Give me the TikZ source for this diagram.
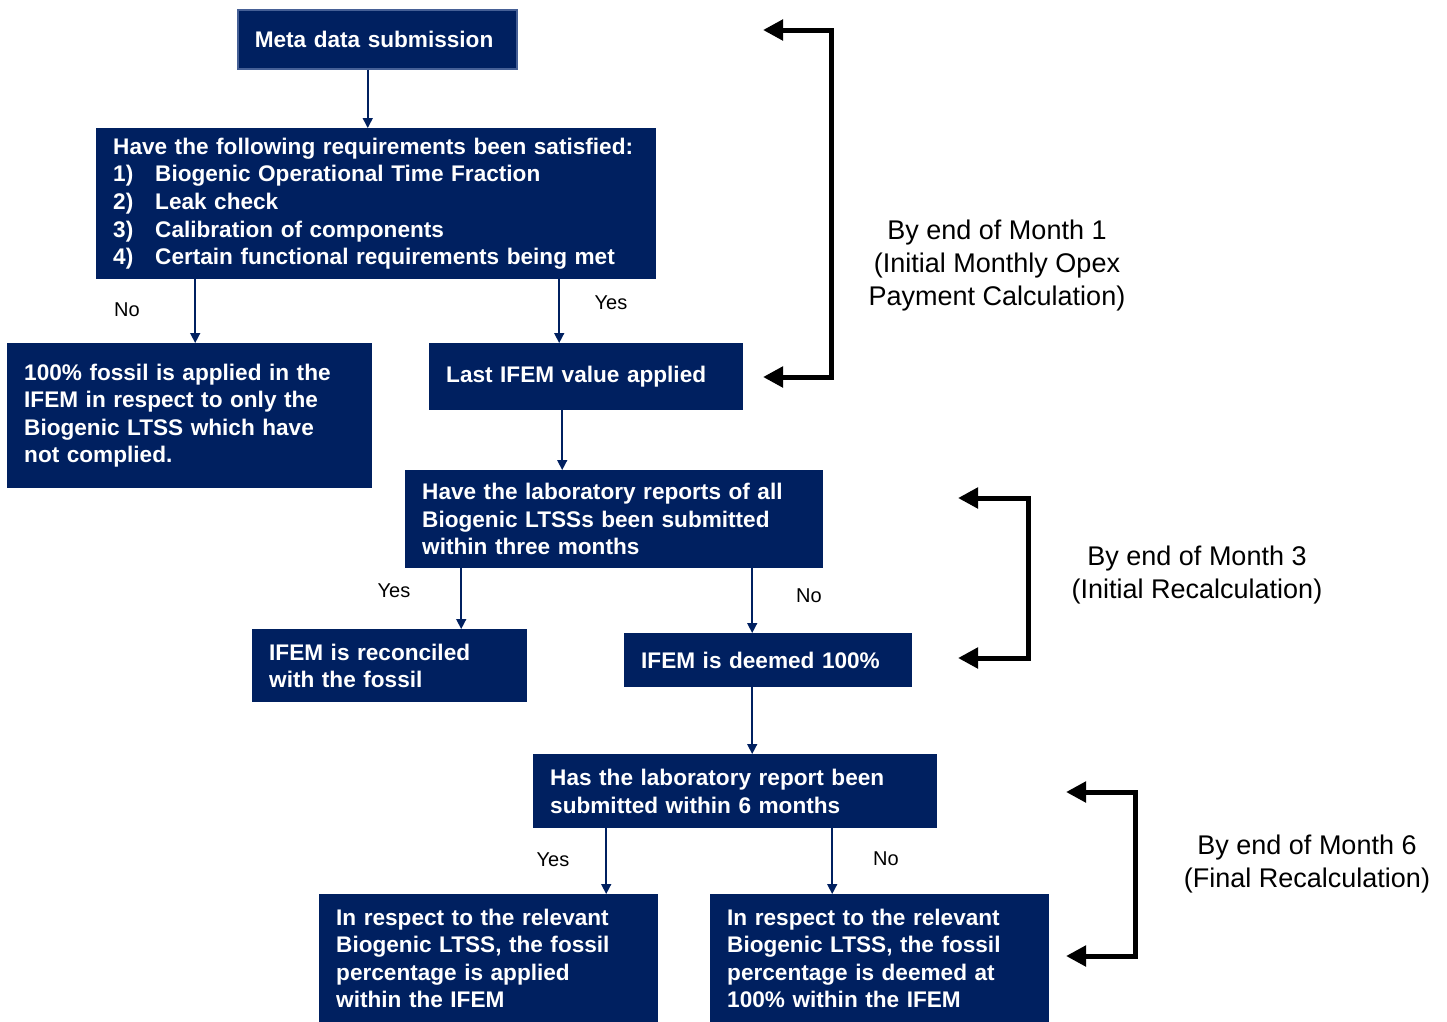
\documentclass[tikz,border=0pt]{standalone}
\usepackage{fontspec}
\setmainfont{Liberation Sans}
\usetikzlibrary{positioning, arrows.meta}
\definecolor{flowNavy}{RGB}{0, 32, 96}
\definecolor{flowEdge}{RGB}{70, 96, 150}

\begin{document}
\begin{tikzpicture}[
    x=1pt, y=-1pt,
    box/.style={rectangle, fill=flowNavy, text=white, anchor=north west,
                inner xsep=17pt, inner ysep=0pt, align=left,
                font=\fontsize{22.6}{27.5}\selectfont\bfseries},
    answer/.style={font=\fontsize{20}{24}\selectfont},
    period/.style={align=center, font=\fontsize{27}{33}\selectfont},
    arrow/.style={-{Triangle[length=10pt, width=10pt]}, draw=flowNavy, line width=1.5pt},
    bracket/.style={{Triangle[length=20pt, width=20pt]}-{Triangle[length=20pt, width=20pt]},
                    line width=5pt}
  ]
    \useasboundingbox (0,0) rectangle (1447,1021);

    % Month 1: submission and checks
    \node[box, draw=flowEdge, line width=1.5pt, text width=245pt, minimum height=59pt] (META) at (237,9)
      {Meta data submission};
    \node[box, text width=526pt, minimum height=151pt] (REQ) at (96,128)
      {Have the following requirements been satisfied:\\
       \makebox[42pt][l]{1)}Biogenic Operational Time Fraction\\
       \makebox[42pt][l]{2)}Leak check\\
       \makebox[42pt][l]{3)}Calibration of components\\
       \makebox[42pt][l]{4)}Certain functional requirements being met};
    \node[box, text width=331pt, minimum height=145pt] (FOSSIL) at (7,343)
      {100\% fossil is applied in the\\IFEM in respect to only the\\Biogenic LTSS which have\\not complied.};
    \node[box, text width=280pt, minimum height=67pt] (LAST) at (429,343)
      {Last IFEM value applied};

    % Month 3: laboratory reports
    \node[box, text width=384pt, minimum height=98pt] (LAB) at (405,470)
      {Have the laboratory reports of all\\Biogenic LTSSs been submitted\\within three months};
    \node[box, text width=241pt, minimum height=73pt] (RECON) at (252,629)
      {IFEM is reconciled\\with the fossil};
    \node[box, text width=254pt, minimum height=54pt] (DEEM) at (624,633)
      {IFEM is deemed 100\%};

    % Month 6: final report
    \node[box, text width=370pt, minimum height=74pt] (LAB6) at (533,754)
      {Has the laboratory report been\\submitted within 6 months};
    \node[box, text width=305pt, minimum height=128pt] (APPL) at (319,894)
      {In respect to the relevant\\Biogenic LTSS, the fossil\\percentage is applied\\within the IFEM};
    \node[box, text width=305pt, minimum height=128pt] (FULL) at (710,894)
      {In respect to the relevant\\Biogenic LTSS, the fossil\\percentage is deemed at\\100\% within the IFEM};

    % Yes / No
    \node[answer] (no1) at (127,310) {No};
    \node[answer] (yes1) at (611,303) {Yes};
    \node[answer] (yes2) at (394,591) {Yes};
    \node[answer] (no2) at (809,596) {No};
    \node[answer] (yes3) at (553,860) {Yes};
    \node[answer] (no3) at (886,859) {No};

    \draw[arrow] ([xshift=-9.5pt]META.south) -- ([xshift=-9.5pt]META.south |- REQ.north);
    \draw[arrow] ([xshift=5.5pt]FOSSIL.north |- REQ.south) -- ([xshift=5.5pt]FOSSIL.north);
    \draw[arrow] ([xshift=-27pt]LAST.north |- REQ.south) -- ([xshift=-27pt]LAST.north);
    \draw[arrow] ([xshift=-24pt]LAST.south) -- ([xshift=-24pt]LAST.south |- LAB.north);
    \draw[arrow] ([xshift=71.5pt]RECON.north |- LAB.south) -- ([xshift=71.5pt]RECON.north);
    \draw[arrow] ([xshift=-16pt]DEEM.north |- LAB.south) -- ([xshift=-16pt]DEEM.north);
    \draw[arrow] ([xshift=-16pt]DEEM.south) -- ([xshift=-16pt]DEEM.south |- LAB6.north);
    \draw[arrow] ([xshift=117.5pt]APPL.north |- LAB6.south) -- ([xshift=117.5pt]APPL.north);
    \draw[arrow] ([xshift=-47.5pt]FULL.north |- LAB6.south) -- ([xshift=-47.5pt]FULL.north);

    % Time periods
    \node[period] (M1) at (997,266) {By end of Month 1\\(Initial Monthly Opex\\Payment Calculation)};
    \node[period] (M3) at (1197,575) {By end of Month 3\\(Initial Recalculation)};
    \node[period] (M6) at (1307,864) {By end of Month 6\\(Final Recalculation)};

    \coordinate (m1a) at (763,30);
    \coordinate (m1b) at (763,377);
    \coordinate (m3a) at (958,498);
    \coordinate (m3b) at (958,658);
    \coordinate (m6a) at (1066,792);
    \coordinate (m6b) at (1066,956);

    \draw[bracket] (m1a) -- ++(68,0) |- (m1b);
    \draw[bracket] (m3a) -- ++(70,0) |- (m3b);
    \draw[bracket] (m6a) -- ++(69,0) |- (m6b);
  \end{tikzpicture}
\end{document}
